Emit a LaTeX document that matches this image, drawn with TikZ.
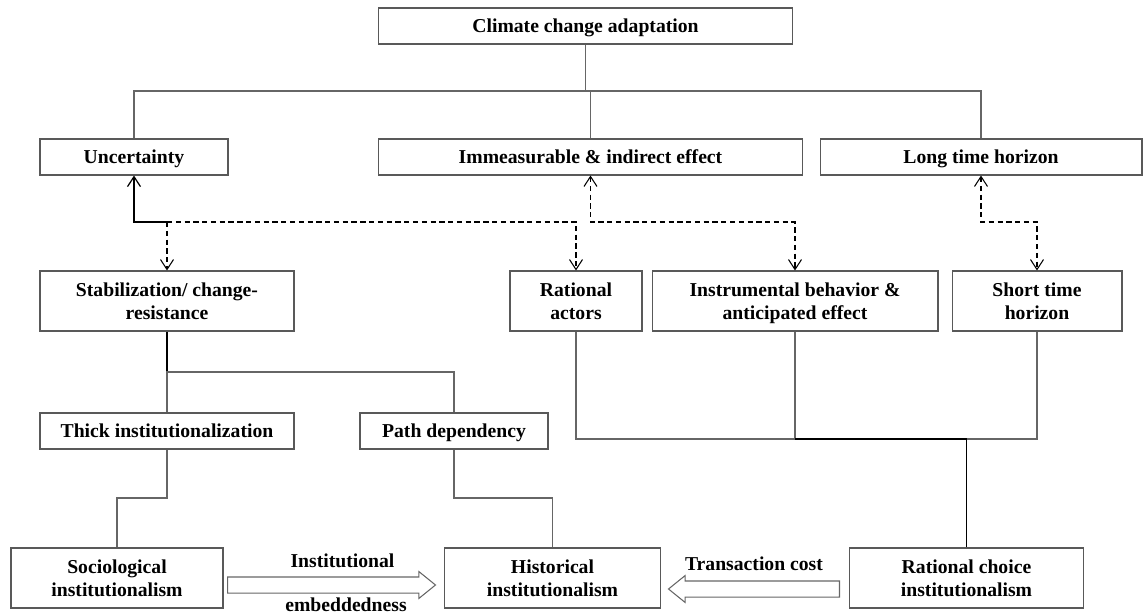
\documentclass[tikz,border=0pt]{standalone}
\usepackage{fontspec}
\setmainfont{Liberation Serif}
\usetikzlibrary{arrows.meta,shapes.arrows}

\begin{document}
\begin{tikzpicture}[x=0.02cm,y=-0.02cm,>={Straight Barb[length=2mm,width=2.6mm]},
    base/.style={draw=black!65,line width=0.6pt,align=center,inner sep=1pt,font=\fontsize{11.2}{13.3}\selectfont\bfseries},
    box/.style={base,minimum height=0.72cm,text height=7.4pt,text depth=0pt},
    tall/.style={base,minimum height=1.2cm,text depth=0pt},
    lbl/.style={font=\fontsize{11.2}{13.3}\selectfont\bfseries,inner sep=0pt,anchor=base},
    link/.style={draw=black!60,line width=0.6pt},
    dark/.style={draw=black,line width=0.7pt},
    dlink/.style={draw=black,line width=0.6pt,dash pattern=on 3pt off 2pt},
    fat/.style={single arrow,draw=black!60,line width=0.6pt,inner xsep=0pt,inner ysep=0.15cm,single arrow head extend=0.11cm,single arrow tip angle=78,anchor=tail}]
    \useasboundingbox (0,0) rectangle (1143,615);

    \node[box,minimum width=8.3cm] (climate) at (585.5,26) {Climate change adaptation};

    \node[box,minimum width=3.76cm] (unc) at (134,157) {Uncertainty};
    \node[box,minimum width=8.5cm] (immeas) at (590.5,157) {Immeasurable \& indirect effect};
    \node[box,minimum width=6.44cm] (longh) at (981,157) {Long time horizon};

    \node[tall,minimum width=5.08cm] (stab) at (167,301) {Stabilization/ change-\\resistance};
    \node[tall,minimum width=2.64cm] (ratact) at (576,301) {Rational\\actors};
    \node[tall,minimum width=5.72cm] (instr) at (795,301) {Instrumental behavior \&\\anticipated effect};
    \node[tall,minimum width=3.4cm] (shorth) at (1037,301) {Short time\\horizon};

    \node[box,minimum width=5.08cm] (thick) at (167,431) {Thick institutionalization};
    \node[box,minimum width=3.76cm] (path) at (454,431) {Path dependency};

    \node[tall,minimum width=4.24cm] (socio) at (117,578) {Sociological\\institutionalism};
    \node[tall,minimum width=4.32cm] (hist) at (552.5,578) {Historical\\institutionalism};
    \node[tall,minimum width=4.68cm] (ratchoice) at (966.5,578) {Rational choice\\institutionalism};

    \coordinate (bus) at (0,91);
    \coordinate (dash) at (0,222);
    \coordinate (split) at (0,372);
    \coordinate (join) at (0,439);
    \coordinate (low) at (0,498);

    \draw[link] (climate.south) -- (climate.south |- bus);
    \draw[link] (unc.north) |- (bus -| longh.north) -- (longh.north);
    \draw[link] (immeas.north) -- (immeas.north |- bus);

    \draw[dark,<-] (unc.south) |- (stab.north |- dash);
    \draw[dlink,->] (stab.north |- dash) -- (stab.north);
    \draw[dlink,->] (stab.north |- dash) -| (ratact.north);
    \draw[dlink,<->] (immeas.south) |- (instr.north |- dash) -- (instr.north);
    \draw[dlink,<->] (longh.south) |- (shorth.north |- dash) -- (shorth.north);

    \draw[dark] (stab.south) -- (stab.south |- split);
    \draw[link] (thick.north) |- (path.north |- split) -- (path.north);
    \draw[link] (thick.south) |- (socio.north |- low) -- (socio.north);
    \draw[link] (path.south) |- (hist.north |- low) -- (hist.north);

    \draw[link] (ratact.south) |- (shorth.south |- join) -- (shorth.south);
    \draw[link] (instr.south) -- (instr.south |- join);
    \draw[dark] (ratchoice.north) -- (ratchoice.north |- join) -- (instr.south |- join);

    \node[fat,minimum height=4.16cm] (embed) at (227,585) {};
    \node[fat,minimum height=3.42cm,shape border rotate=180] (trans) at (840,589) {};
    \node[lbl] (embtop) at (342.5,567) {Institutional};
    \node[lbl] (embbot) at (346,611) {embeddedness};
    \node[lbl] (translbl) at (754,570) {Transaction cost};
\end{tikzpicture}
\end{document}
